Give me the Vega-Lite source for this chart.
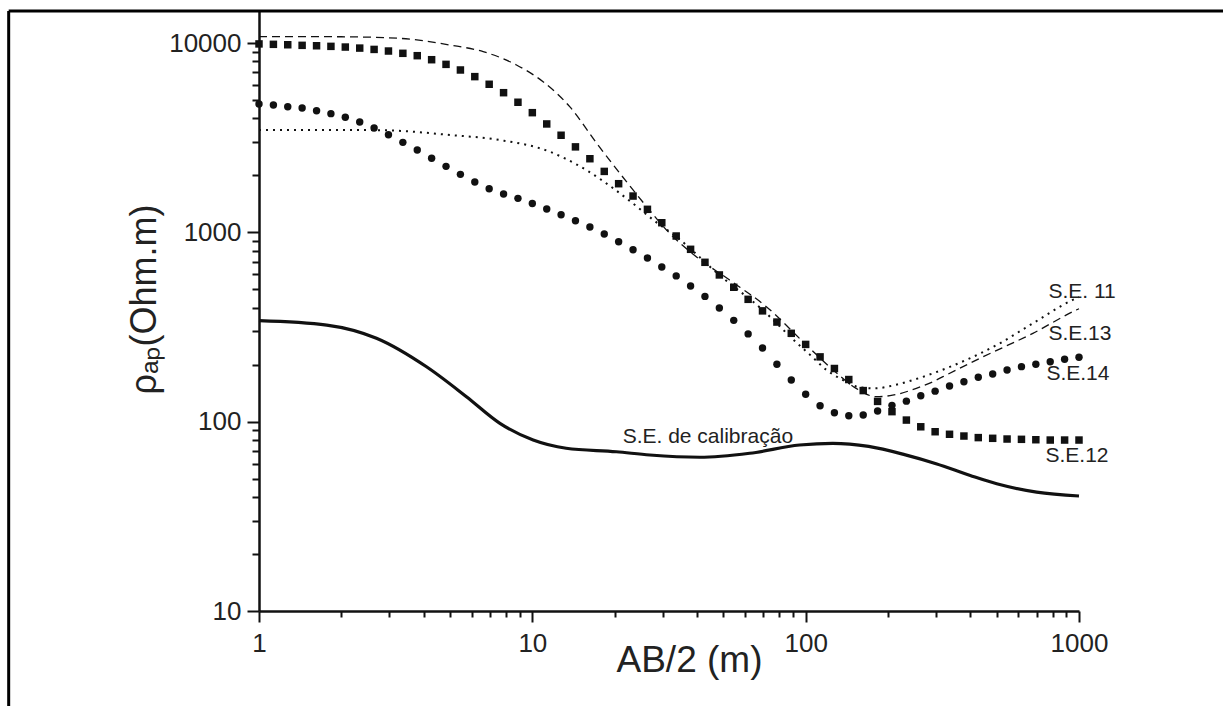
{
  "$schema": "https://vega.github.io/schema/vega-lite/v6.json",
  "width": 820,
  "height": 600,
  "autosize": {"type": "none"},
  "padding": {"left": 259, "top": 11, "right": 144, "bottom": 95},
  "background": "white",
  "config": {"view": {"stroke": null}, "font": "Liberation Sans"},
  "datasets": {
    "curvas": [
      {"serie": "SE12", "ab2": 1, "rho": 9900}, {"serie": "SE12", "ab2": 1.129, "rho": 9850}, {"serie": "SE12", "ab2": 1.274, "rho": 9800}, {"serie": "SE12", "ab2": 1.438, "rho": 9730}, {"serie": "SE12", "ab2": 1.624, "rho": 9680}, {"serie": "SE12", "ab2": 1.833, "rho": 9610}, {"serie": "SE12", "ab2": 2.069, "rho": 9530}, {"serie": "SE12", "ab2": 2.336, "rho": 9410}, {"serie": "SE12", "ab2": 2.637, "rho": 9260}, {"serie": "SE12", "ab2": 2.976, "rho": 9080},
      {"serie": "SE12", "ab2": 3.36, "rho": 8830}, {"serie": "SE12", "ab2": 3.793, "rho": 8580}, {"serie": "SE12", "ab2": 4.281, "rho": 8170}, {"serie": "SE12", "ab2": 4.833, "rho": 7720}, {"serie": "SE12", "ab2": 5.456, "rho": 7210}, {"serie": "SE12", "ab2": 6.159, "rho": 6650}, {"serie": "SE12", "ab2": 6.952, "rho": 6060}, {"serie": "SE12", "ab2": 7.848, "rho": 5470}, {"serie": "SE12", "ab2": 8.859, "rho": 4870}, {"serie": "SE12", "ab2": 10, "rho": 4290},
      {"serie": "SE12", "ab2": 11.29, "rho": 3740}, {"serie": "SE12", "ab2": 12.74, "rho": 3260}, {"serie": "SE12", "ab2": 14.38, "rho": 2830}, {"serie": "SE12", "ab2": 16.24, "rho": 2450}, {"serie": "SE12", "ab2": 18.33, "rho": 2100}, {"serie": "SE12", "ab2": 20.69, "rho": 1808}, {"serie": "SE12", "ab2": 23.36, "rho": 1556}, {"serie": "SE12", "ab2": 26.37, "rho": 1324}, {"serie": "SE12", "ab2": 29.76, "rho": 1125}, {"serie": "SE12", "ab2": 33.6, "rho": 957},
      {"serie": "SE12", "ab2": 37.93, "rho": 814}, {"serie": "SE12", "ab2": 42.81, "rho": 695}, {"serie": "SE12", "ab2": 48.33, "rho": 596}, {"serie": "SE12", "ab2": 54.56, "rho": 513}, {"serie": "SE12", "ab2": 61.59, "rho": 443}, {"serie": "SE12", "ab2": 69.52, "rho": 385}, {"serie": "SE12", "ab2": 78.48, "rho": 336}, {"serie": "SE12", "ab2": 88.59, "rho": 293}, {"serie": "SE12", "ab2": 100, "rho": 256}, {"serie": "SE12", "ab2": 112.9, "rho": 220},
      {"serie": "SE12", "ab2": 127.4, "rho": 191}, {"serie": "SE12", "ab2": 143.8, "rho": 167}, {"serie": "SE12", "ab2": 162.4, "rho": 146}, {"serie": "SE12", "ab2": 183.3, "rho": 128}, {"serie": "SE12", "ab2": 206.9, "rho": 113}, {"serie": "SE12", "ab2": 233.6, "rho": 102}, {"serie": "SE12", "ab2": 263.7, "rho": 94}, {"serie": "SE12", "ab2": 297.6, "rho": 88.5}, {"serie": "SE12", "ab2": 336, "rho": 85.8}, {"serie": "SE12", "ab2": 379.3, "rho": 84},
      {"serie": "SE12", "ab2": 428.1, "rho": 82.4}, {"serie": "SE12", "ab2": 483.3, "rho": 81.7}, {"serie": "SE12", "ab2": 545.6, "rho": 81}, {"serie": "SE12", "ab2": 615.9, "rho": 80.7}, {"serie": "SE12", "ab2": 695.2, "rho": 80.3}, {"serie": "SE12", "ab2": 784.8, "rho": 80}, {"serie": "SE12", "ab2": 885.9, "rho": 80}, {"serie": "SE12", "ab2": 1000, "rho": 80},

      {"serie": "SE14", "ab2": 1, "rho": 4770}, {"serie": "SE14", "ab2": 1.129, "rho": 4710}, {"serie": "SE14", "ab2": 1.274, "rho": 4610}, {"serie": "SE14", "ab2": 1.438, "rho": 4540}, {"serie": "SE14", "ab2": 1.624, "rho": 4390}, {"serie": "SE14", "ab2": 1.833, "rho": 4240}, {"serie": "SE14", "ab2": 2.069, "rho": 4055}, {"serie": "SE14", "ab2": 2.336, "rho": 3830}, {"serie": "SE14", "ab2": 2.637, "rho": 3560}, {"serie": "SE14", "ab2": 2.976, "rho": 3280},
      {"serie": "SE14", "ab2": 3.36, "rho": 2990}, {"serie": "SE14", "ab2": 3.793, "rho": 2725}, {"serie": "SE14", "ab2": 4.281, "rho": 2462}, {"serie": "SE14", "ab2": 4.833, "rho": 2233}, {"serie": "SE14", "ab2": 5.456, "rho": 2026}, {"serie": "SE14", "ab2": 6.159, "rho": 1845}, {"serie": "SE14", "ab2": 6.952, "rho": 1701}, {"serie": "SE14", "ab2": 7.848, "rho": 1595}, {"serie": "SE14", "ab2": 8.859, "rho": 1513}, {"serie": "SE14", "ab2": 10, "rho": 1422},
      {"serie": "SE14", "ab2": 11.29, "rho": 1330}, {"serie": "SE14", "ab2": 12.74, "rho": 1240}, {"serie": "SE14", "ab2": 14.38, "rho": 1153}, {"serie": "SE14", "ab2": 16.24, "rho": 1068}, {"serie": "SE14", "ab2": 18.33, "rho": 980}, {"serie": "SE14", "ab2": 20.69, "rho": 893}, {"serie": "SE14", "ab2": 23.36, "rho": 810}, {"serie": "SE14", "ab2": 26.37, "rho": 732}, {"serie": "SE14", "ab2": 29.76, "rho": 657}, {"serie": "SE14", "ab2": 33.6, "rho": 589},
      {"serie": "SE14", "ab2": 37.93, "rho": 521}, {"serie": "SE14", "ab2": 42.81, "rho": 459}, {"serie": "SE14", "ab2": 48.33, "rho": 399}, {"serie": "SE14", "ab2": 54.56, "rho": 343}, {"serie": "SE14", "ab2": 61.59, "rho": 291}, {"serie": "SE14", "ab2": 69.52, "rho": 245}, {"serie": "SE14", "ab2": 78.48, "rho": 201}, {"serie": "SE14", "ab2": 88.59, "rho": 166}, {"serie": "SE14", "ab2": 100, "rho": 139.6}, {"serie": "SE14", "ab2": 112.9, "rho": 121.5},
      {"serie": "SE14", "ab2": 127.4, "rho": 111.6}, {"serie": "SE14", "ab2": 143.8, "rho": 107.6}, {"serie": "SE14", "ab2": 162.4, "rho": 108.5}, {"serie": "SE14", "ab2": 183.3, "rho": 113.9}, {"serie": "SE14", "ab2": 206.9, "rho": 122}, {"serie": "SE14", "ab2": 233.6, "rho": 128.4}, {"serie": "SE14", "ab2": 263.7, "rho": 137}, {"serie": "SE14", "ab2": 297.6, "rho": 145}, {"serie": "SE14", "ab2": 336, "rho": 154.4}, {"serie": "SE14", "ab2": 379.3, "rho": 162.6},
      {"serie": "SE14", "ab2": 428.1, "rho": 171.7}, {"serie": "SE14", "ab2": 483.3, "rho": 178.6}, {"serie": "SE14", "ab2": 545.6, "rho": 187.6}, {"serie": "SE14", "ab2": 615.9, "rho": 195.3}, {"serie": "SE14", "ab2": 695.2, "rho": 201}, {"serie": "SE14", "ab2": 784.8, "rho": 207.5}, {"serie": "SE14", "ab2": 885.9, "rho": 213.6}, {"serie": "SE14", "ab2": 1000, "rho": 219},

      {"serie": "SE11", "ab2": 1, "rho": 3475}, {"serie": "SE11", "ab2": 2, "rho": 3475}, {"serie": "SE11", "ab2": 2.84, "rho": 3465}, {"serie": "SE11", "ab2": 3.3, "rho": 3435}, {"serie": "SE11", "ab2": 5, "rho": 3270}, {"serie": "SE11", "ab2": 7.6, "rho": 3077}, {"serie": "SE11", "ab2": 11.6, "rho": 2666}, {"serie": "SE11", "ab2": 13.15, "rho": 2460}, {"serie": "SE11", "ab2": 16.1, "rho": 2094}, {"serie": "SE11", "ab2": 19.75, "rho": 1711},
      {"serie": "SE11", "ab2": 24, "rho": 1377}, {"serie": "SE11", "ab2": 28, "rho": 1150}, {"serie": "SE11", "ab2": 33.6, "rho": 950}, {"serie": "SE11", "ab2": 48.3, "rho": 596}, {"serie": "SE11", "ab2": 69.5, "rho": 390}, {"serie": "SE11", "ab2": 92.5, "rho": 262}, {"serie": "SE11", "ab2": 105, "rho": 222}, {"serie": "SE11", "ab2": 119, "rho": 188}, {"serie": "SE11", "ab2": 137, "rho": 166}, {"serie": "SE11", "ab2": 157.5, "rho": 152},
      {"serie": "SE11", "ab2": 181, "rho": 150}, {"serie": "SE11", "ab2": 203, "rho": 154}, {"serie": "SE11", "ab2": 240, "rho": 164}, {"serie": "SE11", "ab2": 292, "rho": 180}, {"serie": "SE11", "ab2": 387, "rho": 212}, {"serie": "SE11", "ab2": 512, "rho": 259}, {"serie": "SE11", "ab2": 678, "rho": 331}, {"serie": "SE11", "ab2": 949, "rho": 440}, {"serie": "SE11", "ab2": 1000, "rho": 455},

      {"serie": "SE13", "ab2": 1, "rho": 10830}, {"serie": "SE13", "ab2": 2, "rho": 10800}, {"serie": "SE13", "ab2": 3.28, "rho": 10590}, {"serie": "SE13", "ab2": 4.99, "rho": 9770}, {"serie": "SE13", "ab2": 6.61, "rho": 9015}, {"serie": "SE13", "ab2": 8.75, "rho": 7660}, {"serie": "SE13", "ab2": 10.95, "rho": 6250}, {"serie": "SE13", "ab2": 13.7, "rho": 4615}, {"serie": "SE13", "ab2": 17.2, "rho": 2957}, {"serie": "SE13", "ab2": 22.1, "rho": 1853},
      {"serie": "SE13", "ab2": 26.2, "rho": 1367}, {"serie": "SE13", "ab2": 31.8, "rho": 989}, {"serie": "SE13", "ab2": 39.8, "rho": 744}, {"serie": "SE13", "ab2": 52.7, "rho": 560}, {"serie": "SE13", "ab2": 71.8, "rho": 405}, {"serie": "SE13", "ab2": 100.6, "rho": 254}, {"serie": "SE13", "ab2": 126, "rho": 187.5}, {"serie": "SE13", "ab2": 153, "rho": 150}, {"serie": "SE13", "ab2": 181, "rho": 135.5}, {"serie": "SE13", "ab2": 208, "rho": 138},
      {"serie": "SE13", "ab2": 254, "rho": 150}, {"serie": "SE13", "ab2": 292, "rho": 162.6}, {"serie": "SE13", "ab2": 318, "rho": 173}, {"serie": "SE13", "ab2": 445, "rho": 220}, {"serie": "SE13", "ab2": 678, "rho": 293}, {"serie": "SE13", "ab2": 977, "rho": 389}, {"serie": "SE13", "ab2": 1000, "rho": 395},

      {"serie": "CAL", "ab2": 1, "rho": 342}, {"serie": "CAL", "ab2": 1.77, "rho": 324}, {"serie": "CAL", "ab2": 2.69, "rho": 276}, {"serie": "CAL", "ab2": 4.1, "rho": 195}, {"serie": "CAL", "ab2": 5.74, "rho": 135.5}, {"serie": "CAL", "ab2": 7.61, "rho": 98}, {"serie": "CAL", "ab2": 10.07, "rho": 80}, {"serie": "CAL", "ab2": 13.3, "rho": 72.4}, {"serie": "CAL", "ab2": 20.3, "rho": 69.4}, {"serie": "CAL", "ab2": 26.9, "rho": 66.7},
      {"serie": "CAL", "ab2": 40.9, "rho": 64.9}, {"serie": "CAL", "ab2": 62.4, "rho": 68.1}, {"serie": "CAL", "ab2": 95, "rho": 75.3}, {"serie": "CAL", "ab2": 125.6, "rho": 76.9}, {"serie": "CAL", "ab2": 170, "rho": 74}, {"serie": "CAL", "ab2": 230, "rho": 67}, {"serie": "CAL", "ab2": 300, "rho": 60}, {"serie": "CAL", "ab2": 400, "rho": 52}, {"serie": "CAL", "ab2": 500, "rho": 47}, {"serie": "CAL", "ab2": 700, "rho": 42.5}, {"serie": "CAL", "ab2": 1000, "rho": 40.5}
    ],
    "rotulos": [
      {"txt": "S.E. 11", "ab2": 773, "rho": 450},
      {"txt": "S.E.13", "ab2": 773, "rho": 270},
      {"txt": "S.E.14", "ab2": 760, "rho": 166},
      {"txt": "S.E.12", "ab2": 754, "rho": 61},
      {"txt": "S.E. de calibração", "ab2": 21.4, "rho": 77.2}
    ],
    "moldura": [
      {"ab2": 0.1214, "ab2b": 100000, "rho": 14775, "rhob": 1}
    ]
  },
  "data": {"name": "curvas"},
  "encoding": {
    "x": {
      "field": "ab2", "type": "quantitative",
      "scale": {"type": "log", "domain": [1, 1000], "nice": false},
      "axis": {
        "title": "AB/2 (m)",
        "values": [1, 2, 3, 4, 5, 6, 7, 8, 9, 10, 20, 30, 40, 50, 60, 70, 80, 90, 100, 200, 300, 400, 500, 600, 700, 800, 900, 1000],
        "format": "d",
        "grid": false,
        "domainColor": "#111", "domainWidth": 2.5,
        "tickColor": "#111", "tickWidth": 2,
        "tickSize": {"condition": {"test": "abs(log(datum.value)/LN10 - round(log(datum.value)/LN10)) < 0.001", "value": 11}, "value": 6},
        "labelExpr": "abs(log(datum.value)/LN10 - round(log(datum.value)/LN10)) < 0.001 ? datum.label : ''",
        "labelFont": "Liberation Sans", "labelFontSize": 26, "labelColor": "#222",
        "labelPadding": 8, "labelOverlap": false, "labelFlush": false, "labelBound": false,
        "titleFont": "Liberation Sans", "titleFontSize": 37, "titleFontWeight": "normal", "titleColor": "#222",
        "titleX": 430, "titleY": 60, "titleBaseline": "alphabetic", "titleAlign": "center"
      }
    },
    "y": {
      "field": "rho", "type": "quantitative",
      "scale": {"type": "log", "domain": [10, 14775], "nice": false},
      "axis": {
        "title": "ρₐₚ(Ohm.m)",
        "values": [10, 20, 30, 40, 50, 60, 70, 80, 90, 100, 200, 300, 400, 500, 600, 700, 800, 900, 1000, 2000, 3000, 4000, 5000, 6000, 7000, 8000, 9000, 10000],
        "format": "d",
        "grid": false,
        "domainColor": "#111", "domainWidth": 2.5,
        "tickColor": "#111", "tickWidth": 2,
        "tickSize": {"condition": {"test": "abs(log(datum.value)/LN10 - round(log(datum.value)/LN10)) < 0.001", "value": 12}, "value": 7},
        "labelExpr": "abs(log(datum.value)/LN10 - round(log(datum.value)/LN10)) < 0.001 ? datum.label : ''",
        "labelFont": "Liberation Sans", "labelFontSize": 26, "labelColor": "#222",
        "labelPadding": 6, "labelOverlap": false, "labelFlush": false, "labelBound": false,
        "titleFont": "Liberation Sans", "titleFontSize": 36, "titleFontWeight": "normal", "titleColor": "#222",
        "titleAngle": -90, "titleX": -104, "titleY": 288, "titleBaseline": "alphabetic", "titleAlign": "center"
      }
    }
  },
  "layer": [
    {
      "data": {"name": "moldura"},
      "mark": {"type": "rule", "color": "#000", "strokeWidth": 3, "clip": false},
      "encoding": {"x": {"field": "ab2", "type": "quantitative"}, "y": {"field": "rho", "type": "quantitative"}, "y2": {"field": "rhob"}}
    },
    {
      "data": {"name": "moldura"},
      "mark": {"type": "rule", "color": "#000", "strokeWidth": 3, "clip": false},
      "encoding": {"x": {"field": "ab2", "type": "quantitative"}, "x2": {"field": "ab2b"}, "y": {"field": "rho", "type": "quantitative"}}
    },
    {
      "transform": [{"filter": "datum.serie === 'SE13'"}],
      "mark": {"type": "line", "color": "#111", "strokeWidth": 1.3, "strokeDash": [8, 5], "interpolate": "monotone"}
    },
    {
      "transform": [{"filter": "datum.serie === 'SE11'"}],
      "mark": {"type": "line", "color": "#111", "strokeWidth": 2, "strokeDash": [2, 5], "interpolate": "monotone"}
    },
    {
      "transform": [{"filter": "datum.serie === 'CAL'"}],
      "mark": {"type": "line", "color": "#111", "strokeWidth": 3.2, "interpolate": "monotone"}
    },
    {
      "transform": [{"filter": "datum.serie === 'SE12'"}],
      "mark": {"type": "point", "shape": "square", "filled": true, "size": 56, "color": "#111", "opacity": 1}
    },
    {
      "transform": [{"filter": "datum.serie === 'SE14'"}],
      "mark": {"type": "point", "shape": "circle", "filled": true, "size": 55, "color": "#111", "opacity": 1}
    },
    {
      "data": {"name": "rotulos"},
      "mark": {"type": "text", "align": "left", "baseline": "alphabetic", "font": "Liberation Sans", "fontSize": 21, "color": "#222"},
      "encoding": {"text": {"field": "txt", "type": "nominal"}}
    }
  ]
}
